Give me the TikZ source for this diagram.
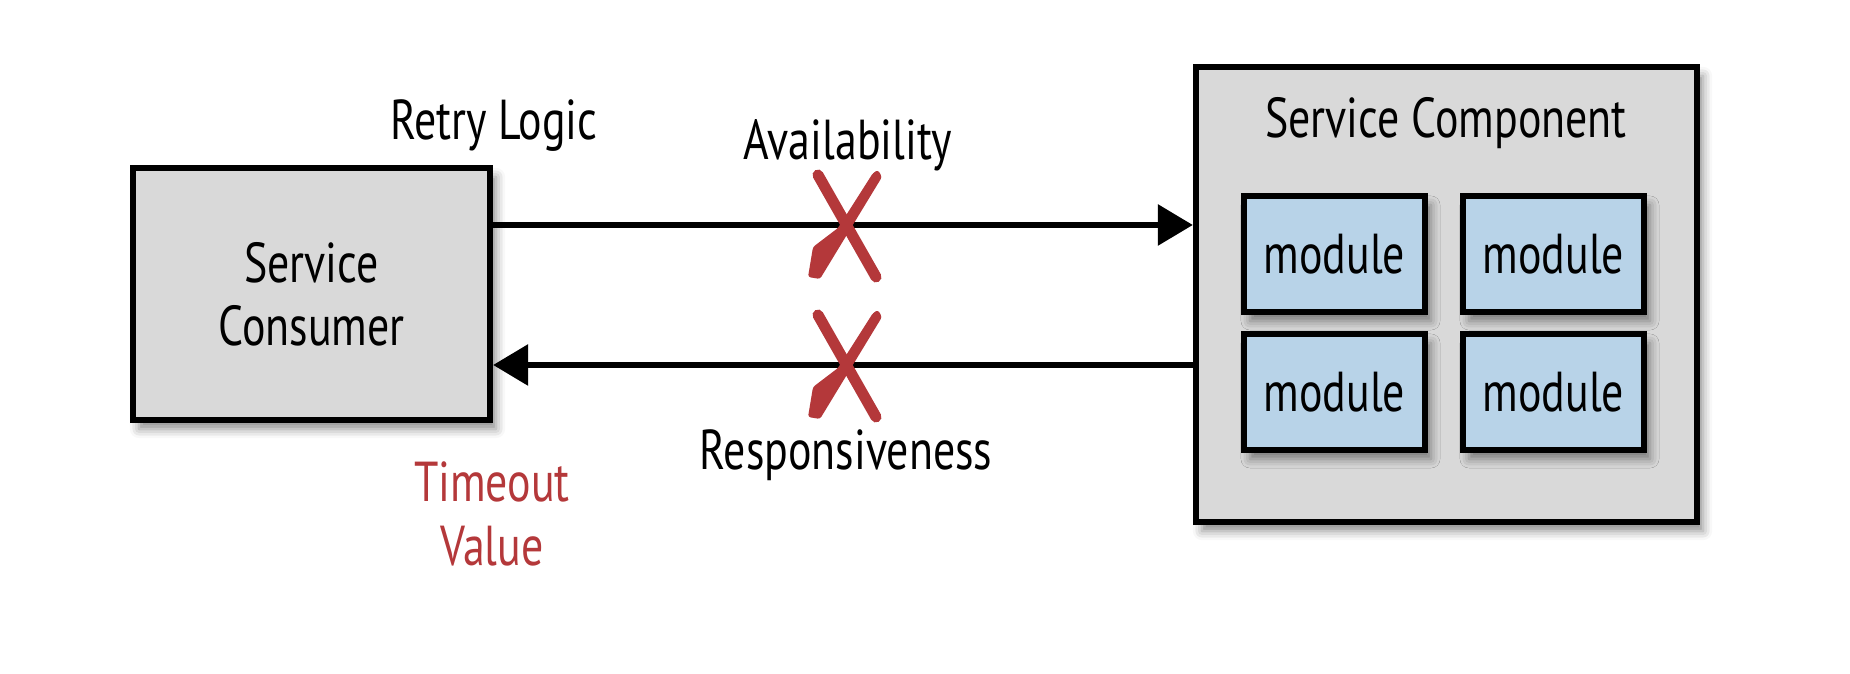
\documentclass[tikz,border=0pt]{standalone}
\usepackage{fontspec}
\setmainfont{PT Sans}[FakeStretch=0.78]
\usetikzlibrary{arrows.meta,shadows.blur}
\definecolor{boxgray}{HTML}{D9D9D9}
\definecolor{modblue}{HTML}{B8D3E8}
\definecolor{failred}{HTML}{B4383A}
\def\failmark(#1){\begin{scope}[shift={(#1)}]
	\draw[failred,line width=0.11cm,line cap=round] (-25,-50) -- (33,52);
	\fill[failred,rounded corners=0.025cm] (39,-48) -- (35,-55) -- (30,-52) -- (-5,3) -- (-30,22)
		-- (-35,52) -- (-23,54) -- cycle;
\end{scope}}
\tikzset{
	svcbox/.style={draw,line width=1.7pt,fill=boxgray,
		blur shadow={shadow xshift=0.06cm,shadow yshift=-0.09cm,shadow blur radius=0.09cm,shadow opacity=45}},
	modbox/.style={svcbox,fill=modblue,minimum width=1.81cm,minimum height=1.16cm,inner sep=0pt},
	flow/.style={line width=1.7pt,-{Triangle[length=0.35cm,width=0.4cm]}},
	lbl/.style={font=\fontsize{16}{18}\selectfont,align=center,inner sep=0pt}
}

\begin{document}
\begin{tikzpicture}[x=0.01cm,y=-0.01cm]
			%%%%% START %%%%%
			\def\yreq{225}
			\def\yresp{365}
			\def\xmark{843}

			\useasboundingbox (0,0) rectangle (1850,674);

			\node[svcbox,lbl,minimum width=3.57cm,minimum height=2.52cm] (consumer) at (311.5,294) {Service\\Consumer};
			\node[svcbox,minimum width=5.01cm,minimum height=4.55cm] (component) at (1446.5,294.5) {};
			\node[lbl,anchor=base] (comptitle) at (1446,138) {Service Component};

			\node[modbox,lbl] (modA) at (1334.5,254) {module};
			\node[modbox,lbl] (modB) at (1553.5,254) {module};
			\node[modbox,lbl] (modC) at (1334.5,392) {module};
			\node[modbox,lbl] (modD) at (1553.5,392) {module};

			\coordinate (req) at (0,\yreq);
			\coordinate (resp) at (0,\yresp);
			\draw[flow] (consumer.east |- req) -- (component.west |- req);
			\draw[flow] (component.west |- resp) -- (consumer.east |- resp);

			\failmark(\xmark,\yreq)
			\failmark(\xmark,\yresp)

			\node[lbl,anchor=base] (retry) at (494,140) {Retry Logic};
			\node[lbl,anchor=base] (avail) at (848,160) {Availability};
			\node[lbl,anchor=base] (respons) at (846,470) {Responsiveness};
			\node[lbl,text=failred] (timeout) at (492,514) {Timeout\\Value};
			%%%%% END %%%%%
\end{tikzpicture}
\end{document}
